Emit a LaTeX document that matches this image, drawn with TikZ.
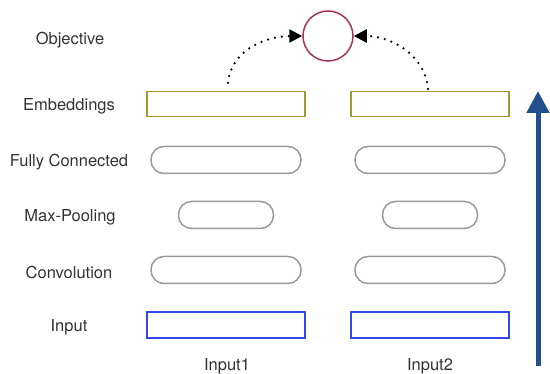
\documentclass[tikz,border=0pt]{standalone}
\usepackage{fontspec}
\setmainfont{TeX Gyre Heros}
\usetikzlibrary{arrows.meta}
\definecolor{embcol}{HTML}{A09B30}
\definecolor{inpcol}{HTML}{3348E8}
\definecolor{objcol}{HTML}{A0305E}
\definecolor{pillcol}{HTML}{999999}
\definecolor{bigarrow}{HTML}{22508C}
\definecolor{txtcol}{HTML}{333333}
\tikzset{
  layerlabel/.style={text=txtcol,font=\fontsize{16.5}{19}\selectfont},
  embbox/.style={draw=embcol,line width=1.5pt,minimum width=158pt,minimum height=25pt},
  inbox/.style={draw=inpcol,line width=1.5pt,minimum width=158pt,minimum height=26pt},
  pillwide/.style={draw=pillcol,line width=1.5pt,rounded corners=13pt,minimum width=150pt,minimum height=27pt},
  pillshort/.style={draw=pillcol,line width=1.5pt,rounded corners=13pt,minimum width=95pt,minimum height=27pt},
  simarrow/.style={line width=2.5pt,line cap=round,dash pattern=on 0pt off 7pt,-{Triangle[width=13pt,length=13pt]}}
}
\begin{document}
\begin{tikzpicture}[x=1pt,y=-1pt]
\useasboundingbox (0,0) rectangle (550,374);

% labels on the left
\node[layerlabel] (lobj) at (70,40) {Objective};
\node[layerlabel] (lemb) at (69,106) {Embeddings};
\node[layerlabel] (lfc) at (69,162) {Fully Connected};
\node[layerlabel] (lmp) at (70,217) {Max-Pooling};
\node[layerlabel] (lconv) at (69,272) {Convolution};
\node[layerlabel] (lin) at (69,327) {Input};

% first tower
\node[embbox] (emb1) at (226,104) {};
\node[pillwide] (fc1) at (226,160) {};
\node[pillshort] (mp1) at (226,215) {};
\node[pillwide] (conv1) at (226,270) {};
\node[inbox] (in1) at (226,325) {};
\node[layerlabel] (name1) at (227,366) {Input1};

% second tower
\node[embbox] (emb2) at (430,104) {};
\node[pillwide] (fc2) at (430,160) {};
\node[pillshort] (mp2) at (430,215) {};
\node[pillwide] (conv2) at (430,270) {};
\node[inbox] (in2) at (430,325) {};
\node[layerlabel] (name2) at (430,366) {Input2};

% objective
\node[draw=objcol,line width=1.5pt,circle,minimum size=50pt] (obj) at (328,36) {};
\coordinate (s1) at (228,83);
\coordinate (s2) at (428,89);
\draw[simarrow] (s1) to[out=85,in=180] (obj.west);
\draw[simarrow] (s2) to[out=95,in=0] (obj.east);

% direction of the forward pass
\coordinate (up1) at (538,366);
\coordinate (up2) at (538,91);
\draw[bigarrow,line width=5pt,-{Triangle[width=22pt,length=22pt]}] (up1) -- (up2);

\end{tikzpicture}
\end{document}
